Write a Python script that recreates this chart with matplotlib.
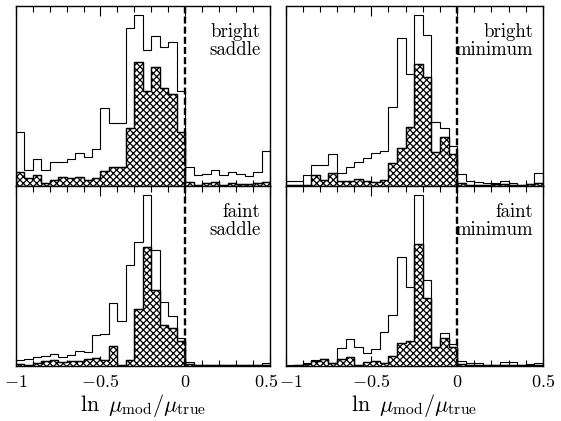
import numpy as np
import matplotlib
matplotlib.use("Agg")
import matplotlib.pyplot as plt
from matplotlib.ticker import MultipleLocator
from matplotlib.transforms import ScaledTranslation

plt.rcParams["mathtext.fontset"] = "cm"
plt.rcParams["hatch.linewidth"] = 0.9

# histogram bins in ln(mu_mod / mu_true)
bin_edges = np.round(np.arange(-1.0, 0.5001, 0.05), 2)

# all models (open) and best-fit subset (cross-hatched), per image type
bright_saddle_all = [54, 15.7, 26.3, 15.7, 23.3, 23.3, 26.3, 33, 28.3, 36.3,
                     78, 63, 63, 158, 170.7, 135.7, 149.7, 139, 144, 95,
                     19, 11, 12, 16, 11, 14, 12, 9.5, 14, 35]
bright_saddle_best = [13.5, 7.3, 11, 2.5, 6, 9, 8, 9, 5.7, 7.3,
                      15, 18.3, 18.3, 57.3, 123.4, 95, 118.4, 97.4, 91.7, 54,
                      4, 0.7, 3, 4, 0.7, 3, 1.7, 1.7, 3, 4]

bright_min_all = [4.7, 4.7, 10.7, 20.7, 20.7, 31.7, 12.3, 19, 24, 27.3,
                  33, 35, 78.3, 148, 111.7, 171, 150.7, 64, 58, 39.5,
                  12, 5, 4, 2.5, 3, 5, 3, 1, 2, 13]
bright_min_best = [1, 0.5, 1, 10.7, 5.7, 12.3, 4.7, 4.7, 6.3, 4.7,
                   4, 5.7, 22.3, 37.3, 58.3, 121.7, 108.3, 33.3, 49, 31.7,
                   3, 1, 1, 1, 1.5, 1.5, 0.5, 0.5, 2, 3]

faint_saddle_all = [6, 7, 8.5, 10, 12, 8.5, 10.5, 15, 14, 31,
                    31.5, 63, 45, 101, 123.5, 170.7, 115.5, 64, 50, 28,
                    3.5, 1, 1, 0.7, 0.7, 1, 0.7, 0.7, 1, 3]
faint_saddle_best = [1.5, 0.7, 2.3, 5, 5.5, 4, 4.5, 5, 7, 8,
                     6, 19.7, 0.7, 5.5, 56.5, 119, 75.7, 40.3, 38, 24.7,
                     2, 0.3, 0.3, 0.3, 0.3, 0.3, 0.3, 0.3, 0.3, 0.7]

faint_min_all = [0.5, 0.7, 2.3, 5.7, 6.7, 3, 17.3, 27, 19, 12.3,
                 16.8, 33.7, 51.2, 108.3, 78.3, 170.7, 85.7, 19, 33.2, 22,
                 5, 3, 3, 1, 1, 3.5, 3.5, 1, 1.5, 3]
faint_min_best = [0, 0.5, 1.5, 4.8, 6.5, 2.3, 7, 8.3, 1, 3.5,
                  5.2, 2.7, 10, 22.5, 24.5, 121.7, 67.3, 19, 27.3, 18.5,
                  2, 0.3, 0.3, 0.3, 0.3, 0.3, 0.3, 0.3, 0.3, 0.3]

panel_labels = ["bright\nsaddle", "bright\nminimum", "faint\nsaddle", "faint\nminimum"]
tick_values = [-1, -0.5, 0, 0.5]
tick_labels = [r"$-1$", r"$-0.5$", r"$0$", r"$0.5$"]
x_label = r"$\ln\ \mu_{\rm mod}/\mu_{\rm true}$"

panels = [
    (bright_saddle_all, bright_saddle_best),
    (bright_min_all, bright_min_best),
    (faint_saddle_all, faint_saddle_best),
    (faint_min_all, faint_min_best),
]

fig = plt.figure(figsize=(5.61, 4.21), dpi=100)
W, H = 561, 421
col_x = [(15.7, 270.0), (285.5, 543.0)]
row_y = [(5.7, 185.7), (185.7, 365.7)]

for i, ((all_vals, best_vals), label) in enumerate(zip(panels, panel_labels)):
    r, c = divmod(i, 2)
    x0, x1 = col_x[c]
    y0, y1 = row_y[r]
    ax = fig.add_axes([x0 / W, 1 - y1 / H, (x1 - x0) / W, (y1 - y0) / H])

    ax.stairs(best_vals, bin_edges, fill=True, facecolor="white",
              edgecolor="black", hatch="xxxxx", linewidth=0.9, zorder=2)
    ax.stairs(best_vals, bin_edges, color="black", linewidth=0.9, zorder=3)
    ax.stairs(all_vals, bin_edges, color="black", linewidth=0.8, zorder=4)
    ax.axvline(0, color="black", linewidth=1.7, linestyle=(0, (3.0, 1.3)), zorder=5)

    ax.set_xlim(-1, 0.5)
    ax.set_ylim(0, 180)
    ax.set_yticks([])
    ax.xaxis.set_major_locator(MultipleLocator(0.5))
    ax.xaxis.set_minor_locator(MultipleLocator(0.1))
    ax.tick_params(axis="x", which="both", direction="in", top=True, bottom=True,
                   width=0.8)
    ax.tick_params(axis="x", which="major", length=7)
    ax.tick_params(axis="x", which="minor", length=4)
    for s in ax.spines.values():
        s.set_linewidth(1.0)

    if r == 1:
        ax.set_xticks(tick_values)
        ax.set_xticklabels(tick_labels, fontsize=13)
        ax.tick_params(axis="x", which="major", pad=5)
        ax.set_xlabel(x_label, fontsize=16, labelpad=1)
        # keep the shared "0.5 / -1" corner labels from running into each other
        lbls = ax.get_xticklabels()
        if c == 0:
            lbls[-1].set_transform(lbls[-1].get_transform()
                                   + ScaledTranslation(-4 / 100, 0, fig.dpi_scale_trans))
        else:
            lbls[0].set_transform(lbls[0].get_transform()
                                  + ScaledTranslation(5 / 100, 0, fig.dpi_scale_trans))
    else:
        ax.set_xticklabels([])

    ax.text(0.962, 0.905, label, transform=ax.transAxes, ha="right", va="top",
            fontfamily="cmr10", fontsize=13.5, linespacing=1.0)

fig.savefig("out.png", dpi=100)
